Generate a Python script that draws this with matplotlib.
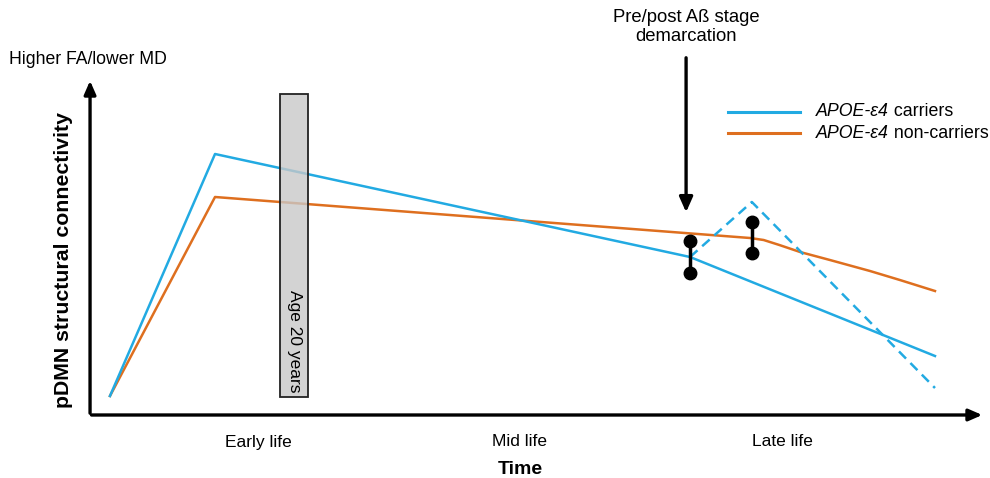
import matplotlib.pyplot as plt
from matplotlib.patches import Rectangle

plt.rcParams['font.family'] = ['Liberation Sans', 'DejaVu Sans']

# time axis: 1 = early life, 2 = mid life, 3 = late life
stage_pos = [1, 2, 3]
stage_labels = ['Early life', 'Mid life', 'Late life']

# carriers (solid) and the alternative late-life path (dashed)
carrier_t = [0.435, 0.836, 2.649, 3.584]
carrier_c = [0.19, 2.61, 1.58, 0.59]
carrier_alt_t = [2.649, 2.885, 3.584]
carrier_alt_c = [1.58, 2.13, 0.27]

# non-carriers
noncarrier_t = [0.435, 0.836, 2.878, 2.93, 2.99, 3.069, 3.183, 3.336, 3.45, 3.584]
noncarrier_c = [0.19, 2.18, 1.77, 1.75, 1.70, 1.63, 1.55, 1.44, 1.35, 1.24]

# dumbbell markers (time, low, high)
dumb_t = [2.649, 2.885]
dumb_lo = [1.42, 1.62]
dumb_hi = [1.74, 1.93]

# age 20 bar
bar_t = [1.084, 1.191]
bar_c = [0.18, 3.21]

demarc_t = 2.634
demarc_c = [3.6, 2.0]

blue = '#22AAE2'
orange = '#DE6F1F'

fig = plt.figure(figsize=(9.9, 4.78), dpi=100)
ax = fig.add_axes([0, 0, 1, 1])
ax.set_xlim(0.0153, 3.794)
ax.set_ylim(-0.63, 4.15)
ax.axis('off')

# axes with arrows
x0, y0 = 0.359, 0.0
ax.annotate('', xy=(3.775, y0), xytext=(x0 - 0.005, y0),
            arrowprops=dict(arrowstyle='-|>,head_length=0.8,head_width=0.35', lw=2.4, color='black'))
ax.annotate('', xy=(x0, 3.37), xytext=(x0, y0 - 0.01),
            arrowprops=dict(arrowstyle='-|>,head_length=0.8,head_width=0.35', lw=2.4, color='black'))

ax.plot(noncarrier_t, noncarrier_c, color=orange, lw=1.8, zorder=2, solid_joinstyle='round')
ax.plot(carrier_t, carrier_c, color=blue, lw=1.8, zorder=3)
ax.plot(carrier_alt_t, carrier_alt_c, color=blue, lw=1.8, ls=(0, (4, 2.5)), zorder=3)

ax.add_patch(Rectangle((bar_t[0], bar_c[0]), bar_t[1] - bar_t[0], bar_c[1] - bar_c[0],
                       facecolor='#C8C8C8', alpha=0.8, edgecolor='none', zorder=4))
ax.add_patch(Rectangle((bar_t[0], bar_c[0]), bar_t[1] - bar_t[0], bar_c[1] - bar_c[0],
                       facecolor='none', edgecolor='#222222', lw=1.3, zorder=5))
ax.text((bar_t[0] + bar_t[1]) / 2, bar_c[0] + 0.05, 'Age 20 years', rotation=-90,
        ha='center', va='bottom', fontsize=12.5, zorder=6)

for t, lo, hi in zip(dumb_t, dumb_lo, dumb_hi):
    ax.plot([t, t], [lo, hi], color='black', lw=2.5, marker='o', ms=9, zorder=6)

ax.annotate('', xy=(demarc_t, demarc_c[1]), xytext=(demarc_t, demarc_c[0]),
            arrowprops=dict(arrowstyle='-|>,head_length=0.9,head_width=0.4', lw=2.4, color='black'))
ax.text(demarc_t, 3.70, 'Pre/post Aß stage\ndemarcation', ha='center', va='bottom',
        fontsize=13.3, linespacing=1.15)

for p, lab in zip(stage_pos, stage_labels):
    ax.text(p, -0.27, lab, ha='center', va='center', fontsize=12.5)
ax.text(2.002, -0.55, 'Time', ha='center', va='center', fontsize=14, fontweight='bold')
ax.text(0.256, 1.55, 'pDMN structural connectivity', rotation=90, ha='center', va='center',
        fontsize=15.3, fontweight='bold')
ax.text(0.05, 3.55, 'Higher FA/lower MD', ha='left', va='center', fontsize=12.7)

# legend
leg_t = [2.794, 3.069]
for c, yv, rest in [(blue, 3.03, ' carriers'), (orange, 2.82, ' non-carriers')]:
    ax.plot(leg_t, [yv, yv], color=c, lw=2.2)
    t1 = ax.text(3.13, yv, 'APOE-ε4', fontstyle='italic', ha='left', va='center', fontsize=12.8)
    ax.annotate(rest, xy=(1, 0.5), xycoords=t1, ha='left', va='center', fontsize=12.8)

fig.savefig('out.png', dpi=100)
